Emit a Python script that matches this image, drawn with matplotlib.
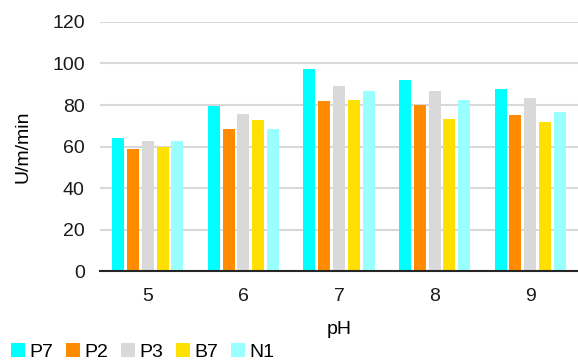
import numpy as np
import matplotlib.pyplot as plt

plt.rcParams['font.family'] = ['Liberation Sans', 'DejaVu Sans']

ph = ['5', '6', '7', '8', '9']
series = ['P7', 'P2', 'P3', 'B7', 'N1']
p7 = [64, 79.5, 97.2, 92.2, 87.5]
p2 = [59, 68.4, 81.7, 79.9, 75.4]
p3 = [62.5, 75.9, 89, 86.6, 83.4]
b7 = [60, 72.9, 82.6, 73.4, 71.9]
n1 = [62.5, 68.4, 86.6, 82.5, 76.4]
colors = ['#00FFFF', '#FF8C00', '#D9D9D9', '#FFE000', '#99FFFF']

fig = plt.figure(figsize=(5.78, 3.6), dpi=100)
ax = fig.add_axes([0.173, 0.247, 0.827, 0.692])

x = np.arange(len(ph))
step = 0.155
width = 0.126
for i, (name, vals) in enumerate(zip(series, [p7, p2, p3, b7, n1])):
    ax.bar(x + (i - 2) * step, vals, width, color=colors[i], label=name, zorder=3)

ax.set_xlim(-0.5, 4.5)
ax.set_ylim(0, 120)
ax.set_yticks(range(0, 121, 20))
ax.set_xticks(x)
ax.set_xticklabels(ph)
ax.yaxis.grid(True, color='#D9D9D9', linewidth=1.5, zorder=0)
for s in ['top', 'right', 'left']:
    ax.spines[s].set_visible(False)
ax.spines['bottom'].set_color('#262626')
ax.spines['bottom'].set_linewidth(1.5)
ax.spines['bottom'].set_zorder(4)
ax.tick_params(length=0, labelsize=14, colors='#1a1a1a')
ax.tick_params(axis='x', pad=12)
ax.tick_params(axis='y', pad=11)
ax.set_xlabel('pH', fontsize=14, labelpad=12)
ax.set_ylabel('U/m/min', fontsize=14, labelpad=15)

fig.legend(loc='lower left', bbox_to_anchor=(-0.004, -0.04), ncol=5, frameon=False,
           fontsize=14, handlelength=0.7, handleheight=0.7, handletextpad=0.25,
           columnspacing=0.65, borderpad=0.2)

fig.savefig('out.png', dpi=100)
